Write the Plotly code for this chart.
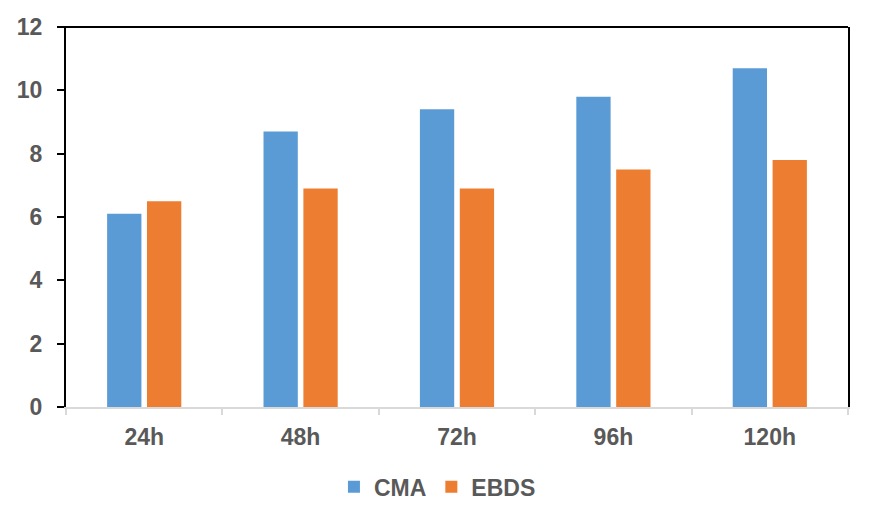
import plotly.graph_objects as go

categories = ["24h", "48h", "72h", "96h", "120h"]
cma = [6.1, 8.7, 9.4, 9.8, 10.7]
ebds = [6.5, 6.9, 6.9, 7.5, 7.8]
y_ticks = [0, 2, 4, 6, 8, 10, 12]

font_fam = "Liberation Sans, Arial, sans-serif"
gray = "#595959"
fnt = dict(family=font_fam, size=23, color=gray, weight="bold")

fig = go.Figure()
fig.add_trace(go.Bar(x=categories, y=cma, name="CMA", marker=dict(color="#5B9BD5", line=dict(width=0))))
fig.add_trace(go.Bar(x=categories, y=ebds, name="EBDS", marker=dict(color="#ED7D31", line=dict(width=0))))

fig.update_layout(
    width=876, height=524,
    margin=dict(l=58, r=36, t=19, b=125, autoexpand=False),
    paper_bgcolor="white", plot_bgcolor="white",
    barmode="group", bargap=0.49, bargroupgap=0.14,
    font=fnt,
    showlegend=True,
    legend=dict(orientation="h", x=0.475, xanchor="center", y=-0.21, yanchor="middle",
                font=fnt, itemwidth=30, traceorder="normal"),
    xaxis=dict(showline=True, linecolor="#D9D9D9", linewidth=2, ticks="outside",
               tickson="boundaries", tickcolor="#D9D9D9", ticklen=6, tickwidth=2,
               showgrid=False, tickfont=fnt, automargin=False, ticklabelstandoff=8),
    yaxis=dict(range=[0, 12], tickvals=y_ticks, showline=True, linecolor="black", linewidth=2,
               mirror=True, ticks="outside", tickcolor="black", ticklen=7, tickwidth=2,
               showgrid=False, zeroline=False, ticklabelstandoff=10,
               tickfont=fnt, automargin=False),
    shapes=[dict(type="line", xref="paper", yref="paper", x0=-0.009, x1=1.0, y0=1, y1=1,
                 line=dict(color="black", width=2))],
)

fig.write_html("out.html")
